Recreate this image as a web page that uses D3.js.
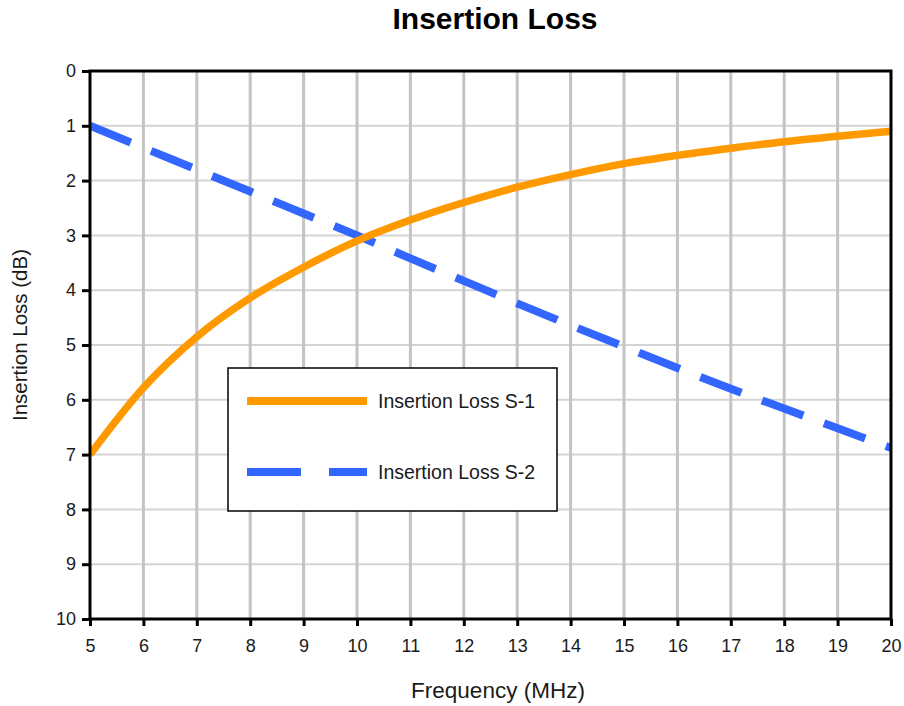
<!DOCTYPE html>
<html>
<head>
<meta charset="utf-8">
<script src="https://cdn.jsdelivr.net/npm/d3@7"></script>
<style>
  html, body { margin: 0; padding: 0; background: #fff; }
  svg { display: block; font-family: "Liberation Sans", Arial, sans-serif; }
</style>
</head>
<body>
<svg id="chart" width="904" height="706"></svg>
<script>
// Frequency points (MHz)
const frequencies = [5, 6, 7, 8, 9, 10, 11, 12, 13, 14, 15, 16, 17, 18, 19, 20];
// Insertion loss, dB
const lossS1 = [7.0, 5.78, 4.85, 4.14, 3.58, 3.1, 2.72, 2.4, 2.12, 1.89, 1.69, 1.54, 1.41, 1.29, 1.19, 1.1];
const lossS2 = [1.0, 1.4, 1.8, 2.2, 2.6, 3.0, 3.42, 3.83, 4.24, 4.64, 5.03, 5.42, 5.8, 6.16, 6.52, 6.88];
const xTicks = d3.range(5, 21, 1);
const yTicks = d3.range(0, 11, 1);
const seriesNames = ["Insertion Loss S-1", "Insertion Loss S-2"];

const svg = d3.select("#chart");
const plot = { left: 90, right: 891, top: 71, bottom: 619 };

const x = d3.scaleLinear().domain([5, 20]).range([plot.left, plot.right]);
const y = d3.scaleLinear().domain([0, 10]).range([plot.top, plot.bottom]);

// Gridlines
svg.append("g").selectAll("line").data(yTicks.slice(1, -1)).join("line")
  .attr("x1", plot.left).attr("x2", plot.right)
  .attr("y1", d => y(d)).attr("y2", d => y(d))
  .attr("stroke", "#d4d4d4").attr("stroke-width", 2);
svg.append("g").selectAll("line").data(xTicks.slice(1, -1)).join("line")
  .attr("y1", plot.top).attr("y2", plot.bottom)
  .attr("x1", d => x(d)).attr("x2", d => x(d))
  .attr("stroke", "#c4c4c4").attr("stroke-width", 3);

// Axes
const xAxis = svg.append("g")
  .attr("transform", `translate(0,${plot.bottom})`)
  .call(d3.axisBottom(x).tickValues(xTicks).tickSize(7).tickPadding(13).tickSizeOuter(0));
const yAxis = svg.append("g")
  .attr("transform", `translate(${plot.left},0)`)
  .call(d3.axisLeft(y).tickValues(yTicks).tickSize(8).tickPadding(6).tickSizeOuter(0));
[xAxis, yAxis].forEach(a => {
  a.select(".domain").remove();
  a.selectAll(".tick line").attr("stroke", "#000").attr("stroke-width", 3);
  a.selectAll(".tick text").attr("fill", "#1a1a1a")
    .style("font-size", "18px").style("font-family", "'Liberation Sans', Arial, sans-serif");
});

// Series lines
const line = d3.line()
  .x((d, i) => x(frequencies[i]))
  .y(d => y(d))
  .curve(d3.curveMonotoneX);

svg.append("clipPath").attr("id", "plotClip")
  .append("rect").attr("x", plot.left).attr("y", plot.top)
  .attr("width", plot.right - plot.left).attr("height", plot.bottom - plot.top);

svg.append("path").datum(lossS2)
  .attr("d", line).attr("fill", "none")
  .attr("stroke", "#3366ff").attr("stroke-width", 8)
  .attr("stroke-dasharray", "44,22")
  .attr("clip-path", "url(#plotClip)");
svg.append("path").datum(lossS1)
  .attr("d", line).attr("fill", "none")
  .attr("stroke", "#ff9900").attr("stroke-width", 7.5)
  .attr("clip-path", "url(#plotClip)");

// Plot frame
svg.append("rect")
  .attr("x", plot.left).attr("y", plot.top)
  .attr("width", plot.right - plot.left).attr("height", plot.bottom - plot.top)
  .attr("fill", "none").attr("stroke", "#000").attr("stroke-width", 3);

// Legend
const legend = svg.append("g");
legend.append("rect")
  .attr("x", 228).attr("y", 368).attr("width", 329).attr("height", 143)
  .attr("fill", "#fff").attr("stroke", "#000").attr("stroke-width", 1.5);
const legendItems = [
  { name: seriesNames[0], color: "#ff9900", dash: null, cy: 401 },
  { name: seriesNames[1], color: "#3366ff", dash: "54,28", cy: 472 }
];
legendItems.forEach(it => {
  legend.append("line")
    .attr("x1", 247).attr("x2", 367).attr("y1", it.cy).attr("y2", it.cy)
    .attr("stroke", it.color).attr("stroke-width", 8)
    .attr("stroke-dasharray", it.dash);
  legend.append("text")
    .attr("x", 378).attr("y", it.cy + 7)
    .attr("fill", "#1a1a1a").style("font-size", "19.5px")
    .text(it.name);
});

// Titles
svg.append("text")
  .attr("x", 495).attr("y", 29).attr("text-anchor", "middle")
  .style("font-size", "30px").style("font-weight", "bold").attr("fill", "#000")
  .text("Insertion Loss");
svg.append("text")
  .attr("x", 498).attr("y", 698).attr("text-anchor", "middle")
  .style("font-size", "22.5px").attr("fill", "#1a1a1a")
  .text("Frequency (MHz)");
svg.append("text")
  .attr("transform", "translate(27,335) rotate(-90)").attr("text-anchor", "middle")
  .style("font-size", "20.5px").attr("fill", "#1a1a1a")
  .text("Insertion Loss (dB)");
</script>
</body>
</html>
